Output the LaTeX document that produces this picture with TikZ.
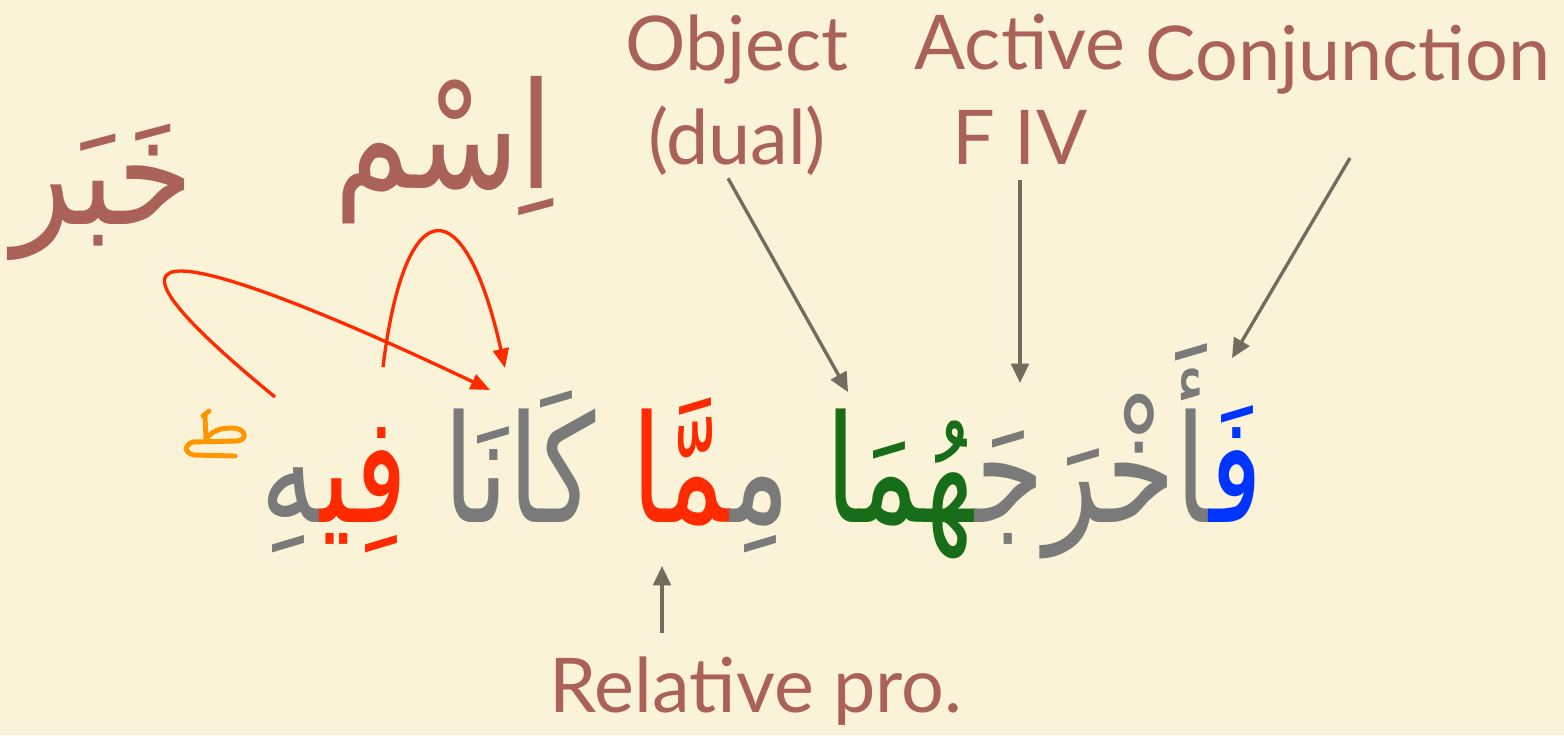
\documentclass[tikz,border=0pt]{standalone}
\usepackage{fontspec}
\setmainfont{Lato}
\newfontfamily\arabicfont[Script=Arabic]{DejaVu Sans}
\TeXXeTstate=1
\usetikzlibrary{
  arrows.meta,
  positioning,
  calc
}
\definecolor{paper}{RGB}{251,243,215}
\definecolor{rust}{RGB}{170,98,88}
\definecolor{pointgray}{RGB}{112,108,94}
\definecolor{wordgray}{RGB}{122,122,122}
\definecolor{wordgreen}{RGB}{24,110,24}
\definecolor{wordred}{RGB}{255,42,0}
\definecolor{wordblue}{RGB}{0,52,255}
\definecolor{pausemark}{RGB}{255,150,0}
\newcommand{\zj}{\char"200D\relax}
\newcommand{\arab}[1]{{\arabicfont\beginR #1\endR}}
% one coloured piece of the verse, pieces are given left to right
\newcommand{\piece}[2]{{\color{#1}#2}}

\begin{document}
\begin{tikzpicture}[x=0.02cm, y=-0.02cm,
    tag/.style={rust, inner sep=0pt, align=center, font=\fontsize{43}{54}\selectfont},
    arabtag/.style={rust, inner sep=0pt, font=\fontsize{70}{74}\arabicfont},
    pointer/.style={pointgray, line width=1.9pt, -{Triangle[length=11pt, width=10pt]}},
    redarc/.style={wordred, line width=1.9pt, -{Triangle[length=11pt, width=9pt]}}]
  \fill[paper] (0,0) rectangle (1564,735);
  \useasboundingbox (0,0) rectangle (1564,735);

  % the verse
  \node[inner sep=0pt, anchor=base, font=\fontsize{74}{80}\arabicfont] (verse) at (762,522)
    {\scalebox{0.86}[1.15]{\piece{wordgray}{\zj هِ}\piece{wordred}{فِي\zj} \piece{wordgray}{كَانَا} \piece{wordred}{\zj مَّا}\piece{wordgray}{مِ\zj} \piece{wordgreen}{\zj هُمَا}\piece{wordgray}{\zj أَخْرَجَ\zj}\piece{wordblue}{فَ\zj}}};

  % pause mark over the last word
  \begin{scope}[pausemark, line width=2.8pt, line cap=round, line join=round]
    \draw (205,416) -- (206,439);
    \draw (203,416) -- (209,411);
    \draw (206,439) .. controls (213,430) and (221,428) .. (232,428)
      .. controls (247,428) and (248,441) .. (236,441) -- (193,442);
    \draw (193,442) .. controls (184,445) and (184,453) .. (194,455) -- (235,456);
  \end{scope}

  % labels
  \node[tag, anchor=north] (object) at (737,14) {Object\\(dual)};
  \node[tag, anchor=north] (active) at (1020,14) {Active\\F IV};
  \node[tag, anchor=base] (conj) at (1348,80) {Conjunction};
  \node[tag, anchor=base] (relpro) at (756,712) {Relative pro.};
  \node[arabtag] (ism) at (444,150) {\scalebox{1}[1.2]{\arab{اِسْم}}};
  \node[arabtag] (khabar) at (103,192) {\scalebox{1}[1.2]{\arab{خَبَر}}};

  % arrow ends on the verse
  \coordinate (objhead) at (848,392);
  \coordinate (acthead) at (1020,383);
  \coordinate (conjhead) at (1232,358);
  \coordinate (relhead) at (662,566);
  \coordinate (khabartail) at (275,397);
  \coordinate (khabarhead) at (490,390);
  \coordinate (ismtail) at (383,367);
  \coordinate (ismhead) at (505,368);

  \draw[pointer] ($(object.south)+(-9,2)$) -- (objhead);
  \draw[pointer] ($(active.south)+(0,15)$) -- (acthead);
  \draw[pointer] ($(conj.base)+(2,78)$) -- (conjhead);
  \draw[pointer] ($(relpro.north)+(-94,-23)$) -- (relhead);

  \draw[redarc] (khabartail) .. controls (10,180) and (280,290) .. (khabarhead);
  \draw[redarc] (ismtail) .. controls (405,188) and (465,188) .. (ismhead);
\end{tikzpicture}
\end{document}
